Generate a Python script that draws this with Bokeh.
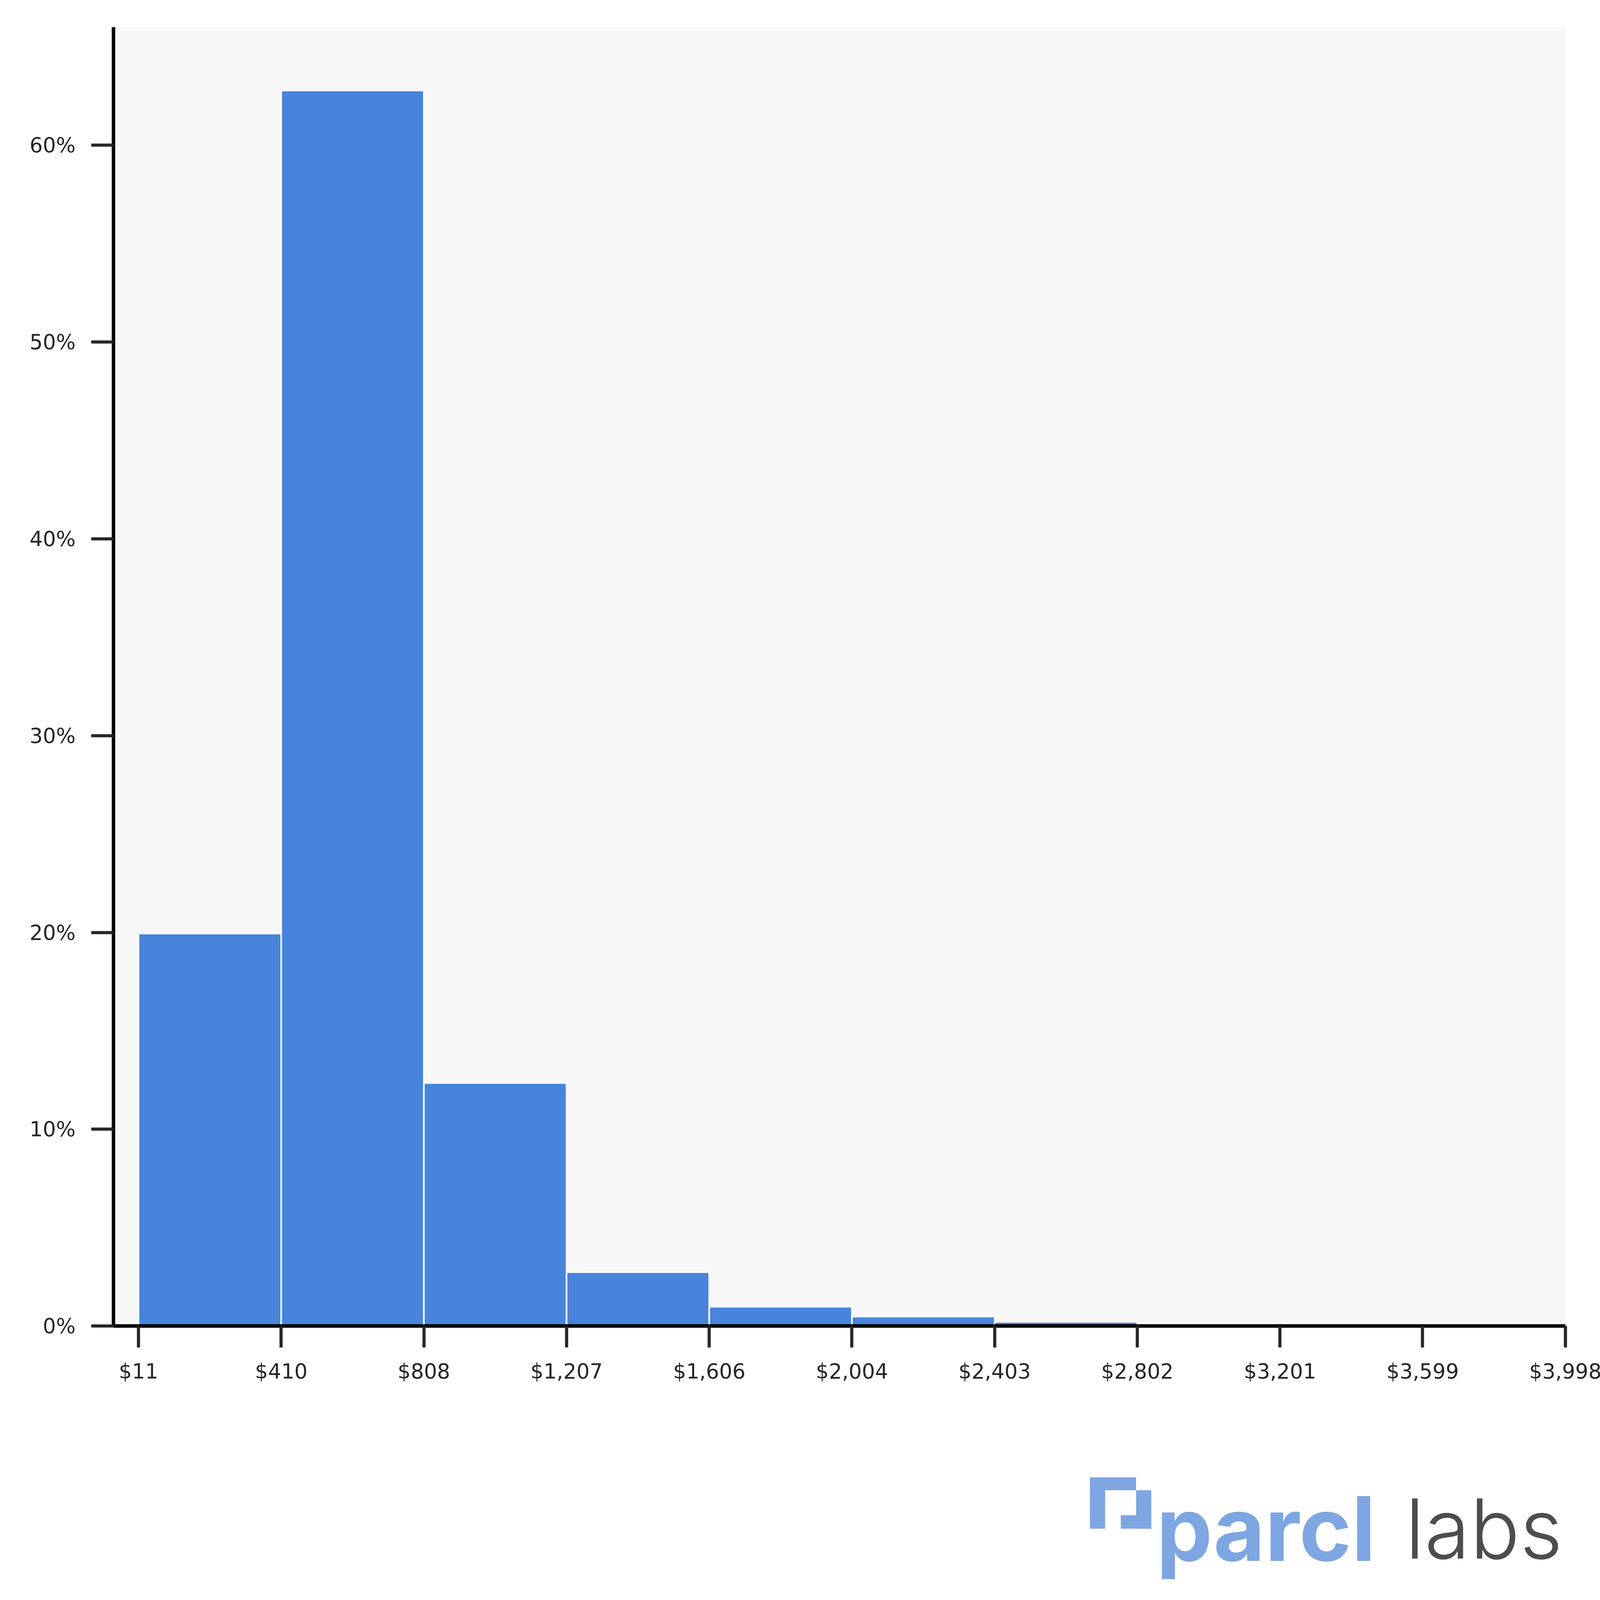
from bokeh.plotting import figure
from bokeh.models import Range1d, FixedTicker, PrintfTickFormatter, CustomJSTickFormatter
from bokeh.core.properties import value
from bokeh.embed import file_html
from bokeh.resources import INLINE

# ---- data ----
bin_edges = [11.0, 409.7, 808.4, 1207.1, 1605.8, 2004.5, 2403.2, 2801.9, 3200.6, 3599.3, 3998.0]
tick_labels = ["$11", "$410", "$808", "$1,207", "$1,606", "$2,004",
               "$2,403", "$2,802", "$3,201", "$3,599", "$3,998"]
share_pct = [19.94, 62.78, 12.35, 2.74, 0.98, 0.48, 0.21, 0.135, 0.07, 0.02]
y_ticks = [0, 10, 20, 30, 40, 50, 60]

BAR_COLOR = "#4884DC"
TEXT_COLOR = "#262626"
FONT = "DejaVu Sans"

# axis extents
X_START, X_AXIS_END, X_END = -59.0, 3998.0, 4125.0
Y_TOP = 66.0

# page geometry of the reference (pixels)
W = 4178
FRAME_LEFT_PX, FRAME_TOP_PX, ZERO_PX, PAGE_BOTTOM_PX = 298, 77, 4128, 4983
PX_PER_X = (4015 - FRAME_LEFT_PX) / (X_AXIS_END - X_START)
PX_PER_Y = (ZERO_PX - FRAME_TOP_PX) / Y_TOP
Y_BOTTOM = -(PAGE_BOTTOM_PX - ZERO_PX) / PX_PER_Y
border_right = int(round(W - (FRAME_LEFT_PX - 8 + (X_END - X_START) * PX_PER_X)))


def dx(page_x):
    return X_START + (page_x - FRAME_LEFT_PX) / PX_PER_X


def dy(page_y):
    return (ZERO_PX - page_y) / PX_PER_Y


p = figure(width=W, sizing_mode="stretch_height", output_backend="svg", toolbar_location=None,
           x_range=Range1d(X_START, X_END), y_range=Range1d(Y_BOTTOM, Y_TOP),
           min_border_left=FRAME_LEFT_PX - 8, min_border_right=border_right,
           min_border_top=FRAME_TOP_PX - 8, min_border_bottom=0)
p.background_fill_color = "white"
p.border_fill_color = "white"
p.outline_line_color = None
p.grid.visible = False

# grey plotting area
p.quad(left=[X_START], right=[X_AXIS_END], bottom=[0], top=[Y_TOP],
       fill_color="#f7f7f7", line_color=None)

# histogram bars
p.quad(left=bin_edges[:-1], right=bin_edges[1:], bottom=0, top=share_pct,
       fill_color=BAR_COLOR, line_color="white", line_width=4)

xa = p.xaxis[0]
xa.ticker = FixedTicker(ticks=bin_edges)
xa.formatter = CustomJSTickFormatter(args=dict(labels=tick_labels), code="return labels[index];")
xa.fixed_location = 0
xa.bounds = (X_START, X_AXIS_END)
ya = p.yaxis[0]
ya.ticker = FixedTicker(ticks=y_ticks)
ya.formatter = PrintfTickFormatter(format="%d%%")
ya.bounds = (0, Y_TOP)

for ax in (xa, ya):
    ax.axis_line_width = 9
    ax.axis_line_color = "black"
    ax.major_tick_line_width = 8
    ax.major_tick_line_color = TEXT_COLOR
    ax.major_tick_in = 0
    ax.minor_tick_line_color = None
    ax.major_label_text_font = FONT
    ax.major_label_text_font_size = "53px"
    ax.major_label_text_color = TEXT_COLOR
xa.major_tick_out = 55
xa.major_label_standoff = 30
ya.major_tick_out = 57
ya.major_label_standoff = 40

# ---- parcl labs logo (page pixel boxes converted to plot units) ----
LOGO_BLUE = "#7EA6E2"
mark_boxes = [  # left, right, top, bottom in page pixels
    (2798, 2837, 4600, 4760),
    (2798, 2916, 4600, 4640),
    (2916, 2955, 4640, 4760),
    (2877, 2955, 4718, 4760),
]
p.quad(left=[dx(b[0]) for b in mark_boxes], right=[dx(b[1]) for b in mark_boxes],
       top=[dy(b[2]) for b in mark_boxes], bottom=[dy(b[3]) for b in mark_boxes],
       fill_color=LOGO_BLUE, line_color=None)
p.text(x=[dx(2968)], y=[dy(4760)], text=["parcl"], text_font=value("Inter"),
       text_font_style="bold", text_font_size="228px", text_color=LOGO_BLUE,
       text_baseline="alphabetic", text_align="left")
p.text(x=[dx(3605)], y=[dy(4760)], text=["labs"], text_font=value("Inter Light, Lato Light, Lato"),
       text_font_size="212px", text_color="#4D4D4D",
       text_baseline="alphabetic", text_align="left")

open("out.html", "w").write(file_html(p, INLINE))
